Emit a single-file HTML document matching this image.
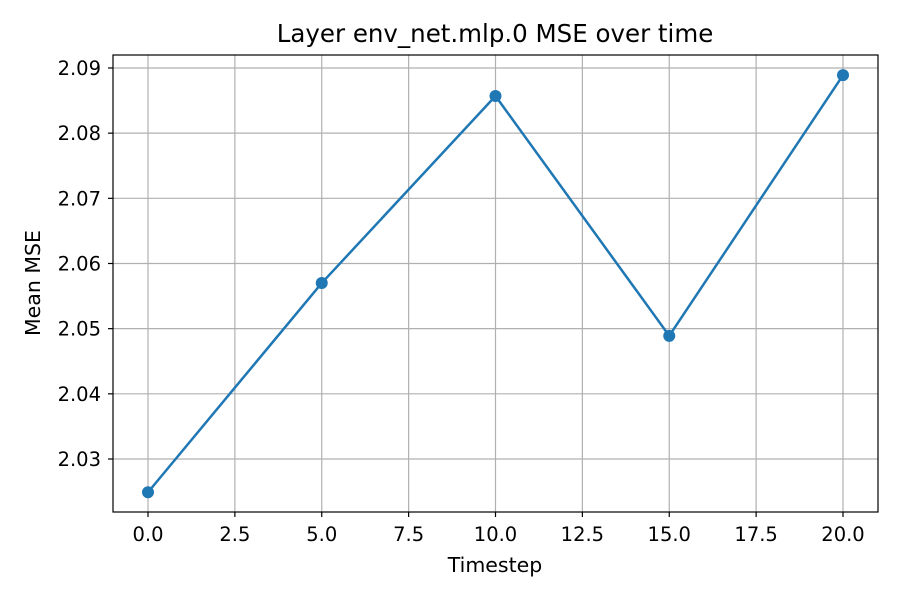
<!DOCTYPE html>
<html><head><meta charset="utf-8"><style>
body{margin:0;background:#fff;}
svg{display:block;font-family:"DejaVu Sans","Liberation Sans",sans-serif;}
</style></head><body>
<svg id="chart" width="900" height="600">
<rect width="900" height="600" fill="#fff"/>
<g id="grid"></g>
<g id="ticks"></g>
<g id="series"></g>
<rect x="113" y="55" width="765" height="457" fill="none" stroke="#000" stroke-width="1.2"/>
<text x="495" y="42" text-anchor="middle" font-size="24.5">Layer env_net.mlp.0 MSE over time</text>
<text x="495" y="572" text-anchor="middle" font-size="20.5">Timestep</text>
<text x="40" y="283" text-anchor="middle" font-size="20.5" transform="rotate(-90 40 283)">Mean MSE</text>
</svg>
<script>
const timesteps = [0, 5, 10, 15, 20];
const mseValues = [2.0249, 2.0570, 2.0857, 2.0489, 2.0889];
const xTickValues = [0, 2.5, 5, 7.5, 10, 12.5, 15, 17.5, 20];
const yTickValues = [2.03, 2.04, 2.05, 2.06, 2.07, 2.08, 2.09];

const NS = "http://www.w3.org/2000/svg";
function xScale(v){ return 148 + v * 34.75; }
function yScale(v){ return 459 - (v - 2.03) / 0.01 * 65.17; }
function mk(tag, attrs, parent){
  const e = document.createElementNS(NS, tag);
  for (const k in attrs) e.setAttribute(k, attrs[k]);
  parent.appendChild(e);
  return e;
}
const grid = document.getElementById('grid');
const ticks = document.getElementById('ticks');
const series = document.getElementById('series');

xTickValues.forEach(v => {
  const x = xScale(v);
  const g = mk('line', {x1:x, x2:x, y1:55, y2:512, stroke:'#b0b0b0', 'stroke-width':1.2}, grid);
  
  
  mk('line', {x1:x, x2:x, y1:512, y2:517, stroke:'#000', 'stroke-width':1.2}, ticks);
  const t = mk('text', {x:x, y:541, 'text-anchor':'middle', 'font-size':19.5}, ticks);
  t.textContent = v.toFixed(1);
  
  
});
yTickValues.forEach(v => {
  const y = yScale(v);
  const g = mk('line', {x1:113, x2:878, y1:y, y2:y, stroke:'#b0b0b0', 'stroke-width':1.2}, grid);
  
  
  mk('line', {x1:108, x2:113, y1:y, y2:y, stroke:'#000', 'stroke-width':1.2}, ticks);
  const t = mk('text', {x:101, y:y+7, 'text-anchor':'end', 'font-size':19.5}, ticks);
  t.textContent = v.toFixed(2);
  
  
});
const pts = timesteps.map((t,i) => xScale(t) + ',' + yScale(mseValues[i])).join(' ');
const line = mk('polyline', {points:pts, fill:'none', stroke:'#1f77b4', 'stroke-width':2.5}, series);


timesteps.forEach((t,i) => {
  const c = mk('circle', {cx:xScale(t), cy:yScale(mseValues[i]), r:6, fill:'#1f77b4'}, series);
  
  
});
</script>
</body></html>
